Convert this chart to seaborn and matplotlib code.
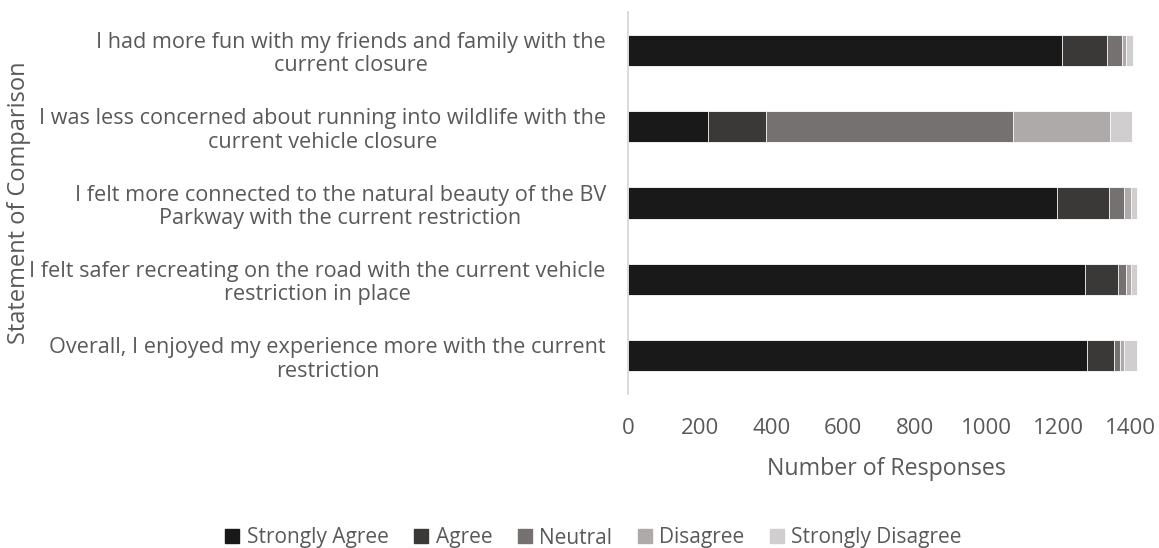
import matplotlib
matplotlib.use("Agg")
import matplotlib.pyplot as plt
from matplotlib.lines import Line2D
import numpy as np
import pandas as pd
import seaborn as sns

# Survey statements (top to bottom) and response counts per answer level
statements = [
    "I had more fun with my friends and family with the\ncurrent closure",
    "I was less concerned about running into wildlife with the\ncurrent vehicle closure",
    "I felt more connected to the natural beauty of the BV\nParkway with the current restriction",
    "I felt safer recreating on the road with the current vehicle\nrestriction in place",
    "Overall, I enjoyed my experience more with the current\nrestriction",
]
levels = ["Strongly Agree", "Agree", "Neutral", "Disagree", "Strongly Disagree"]
strongly_agree = [1211, 223, 1196, 1273, 1281]
agree = [124, 162, 146, 93, 75]
neutral = [42, 688, 42, 23, 17]
disagree = [11, 271, 17, 12, 11]
strongly_disagree = [19, 61, 19, 19, 36]
x_ticks = [0, 200, 400, 600, 800, 1000, 1200, 1400]

colors = ["#191919", "#3b3838", "#767171", "#aeaaaa", "#d0cece"]
text_color = "#595959"

sns.set_theme(style="white")
plt.rcParams["font.family"] = ["Open Sans", "DejaVu Sans"]

counts = pd.DataFrame(
    {
        "Statement": statements,
        "Strongly Agree": strongly_agree,
        "Agree": agree,
        "Neutral": neutral,
        "Disagree": disagree,
        "Strongly Disagree": strongly_disagree,
    }
)
# Running totals so each segment can be layered from the outermost inward
cumulative = counts[levels].cumsum(axis=1)
cumulative["Statement"] = counts["Statement"]

fig = plt.figure(figsize=(11.59, 5.48), dpi=100)
ax = fig.add_axes([0.5419, 0.281, 0.4456, 0.697])

for level, color in reversed(list(zip(levels, colors))):
    sns.barplot(
        data=cumulative,
        x=level,
        y="Statement",
        order=statements,
        color=color,
        width=0.41,
        edgecolor="white",
        linewidth=0.6,
        saturation=1,
        ax=ax,
    )

ax.set_xlim(0, 1440)
ax.set_xticks(x_ticks)
ax.set_xticklabels([str(t) for t in x_ticks])
ax.set_ylim(len(statements) - 0.5, -0.5)

for side in ["top", "right", "bottom"]:
    ax.spines[side].set_visible(False)
ax.spines["left"].set_color("#d9d9d9")
ax.spines["left"].set_linewidth(1.3)

ax.tick_params(axis="x", length=0, pad=17, labelsize=16, labelcolor=text_color)
ax.tick_params(axis="y", length=0, pad=16, labelsize=15.6, labelcolor=text_color)
for lbl in ax.get_yticklabels():
    lbl.set_multialignment("center")
    lbl.set_linespacing(1.15)

ax.set_xlabel("Number of Responses", fontsize=16.7, color=text_color)
ax.xaxis.set_label_coords(0.5, -0.165)
ax.set_ylabel("Statement of Comparison", fontsize=17, color=text_color)
ax.yaxis.set_label_coords(-1.157, 0.5)

handles = [
    Line2D([0], [0], marker="s", linestyle="none", markersize=10,
           markerfacecolor=c, markeredgecolor=c)
    for c in colors
]
fig.legend(
    handles,
    levels,
    loc="center",
    bbox_to_anchor=(0.512, 1 - 538 / 548),
    ncol=5,
    frameon=False,
    fontsize=15,
    labelcolor=text_color,
    handlelength=0.7,
    handletextpad=0.35,
    columnspacing=1.2,
)

fig.savefig("out.png", dpi=100, facecolor="white")
